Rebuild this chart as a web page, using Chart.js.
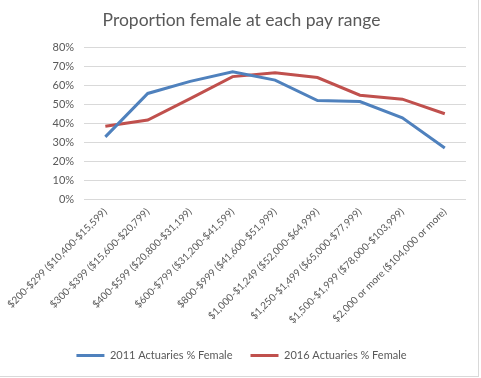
<!DOCTYPE html>
<html><head><meta charset="utf-8">
<script src="https://cdn.jsdelivr.net/npm/chart.js@4"></script>
<style>
html,body{margin:0;padding:0;background:#fff;}
#wrap{position:absolute;left:0;top:0;width:478px;height:376px;border-right:1px solid #d9d9d9;border-bottom:1px solid #d9d9d9;}
canvas{display:block;}
</style></head>
<body>
<div id="wrap"><canvas id="c" width="478" height="376"></canvas></div>
<script>
const categories = ["$200-$299 ($10,400-$15,599)","$300-$399 ($15,600-$20,799)","$400-$599 ($20,800-$31,199)","$600-$799 ($31,200-$41,599)","$800-$999 ($41,600-$51,999)","$1,000-$1,249 ($52,000-$64,999)","$1,250-$1,499 ($65,000-$77,999)","$1,500-$1,999 ($78,000-$103,999)","$2,000 or more ($104,000 or more)"];
const female2011 = [0.33, 0.557, 0.62, 0.67, 0.627, 0.52, 0.515, 0.43, 0.272];
const female2016 = [0.385, 0.418, 0.53, 0.645, 0.665, 0.64, 0.548, 0.527, 0.451];
const seriesNames = ["2011 Actuaries % Female","2016 Actuaries % Female"];
const titleText = "Proportion female at each pay range";

const font = "Lato";
new Chart(document.getElementById('c'), {
  type: 'line',
  data: {
    labels: categories,
    datasets: [
      {label: seriesNames[0], data: female2011, borderColor: '#4F81BD', backgroundColor: '#4F81BD', borderWidth: 3, pointRadius: 0, tension: 0},
      {label: seriesNames[1], data: female2016, borderColor: '#C0504D', backgroundColor: '#C0504D', borderWidth: 3, pointRadius: 0, tension: 0}
    ]
  },
  options: {
    responsive: false,
    animation: false,
    layout: {padding: {left: 17, right: 12, top: 6, bottom: 5}},
    plugins: {
      title: {display: true, text: titleText, color: '#595959', font: {family: font, size: 17.5, weight: 'normal'}, padding: {top: 4, bottom: 16}},
      legend: {
        position: 'bottom',
        labels: {
          color: '#595959', font: {family: font, size: 11}, boxWidth: 28, boxHeight: 3, padding: 18,
          generateLabels(chart) {
            const items = Chart.defaults.plugins.legend.labels.generateLabels(chart);
            items.forEach(i => { i.lineWidth = 0; i.strokeStyle = 'rgba(0,0,0,0)'; });
            return items;
          }
        }
      },
      tooltip: {enabled: false}
    },
    scales: {
      y: {
        min: 0, max: 0.8,
        ticks: {stepSize: 0.1, color: '#595959', font: {family: font, size: 11}, padding: 10,
          callback: v => Math.round(v * 100) + '%'},
        grid: {color: '#d9d9d9', drawTicks: false},
        border: {display: false}
      },
      x: {
        offset: true,
        ticks: {color: '#595959', font: {family: font, size: 10}, minRotation: 45, maxRotation: 45, padding: 6},
        grid: {display: false, drawTicks: false, offset: true},
        border: {display: false}
      }
    }
  }
});
</script>
</body></html>
